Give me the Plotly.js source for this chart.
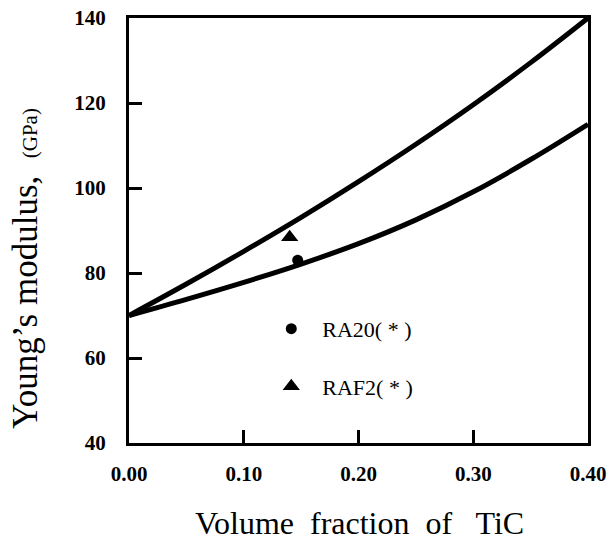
<!DOCTYPE html>
<html>
<head>
<meta charset="utf-8">
<script src="https://cdn.plot.ly/plotly-3.0.1.min.js"></script>
<style>html,body{margin:0;padding:0;background:#fff;}#chart{width:611px;height:541px;}</style>
</head>
<body>
<div id="chart"></div>
<script>
// Curve data
const vfCurve = [0, 0.05, 0.10, 0.15, 0.20, 0.25, 0.30, 0.35, 0.40];
const upperBound = [70, 77.4, 85.1, 93.1, 101.5, 110.3, 119.6, 129.5, 140];
const lowerBound = [70, 73.8, 77.8, 82.1, 86.9, 92.5, 99.1, 106.7, 115];

// Experimental points
const ra20X = [0.147];
const ra20Y = [83.0];
const raf2X = [0.140];
const raf2Y = [88.4];

const xTicks = [0, 0.1, 0.2, 0.3, 0.4];
const xTickLabels = ['0.00', '0.10', '0.20', '0.30', '0.40'];
const yTicks = [40, 60, 80, 100, 120, 140];
const yTickLabels = ['40', '60', '80', '100', '120', '140'];

const serif = '"Liberation Serif", "Times New Roman", serif';

const traces = [
  {x: vfCurve, y: upperBound, mode: 'lines', line: {color: '#000', width: 5, shape: 'spline', smoothing: 1}, showlegend: false, hoverinfo: 'skip'},
  {x: vfCurve, y: lowerBound, mode: 'lines', line: {color: '#000', width: 5, shape: 'spline', smoothing: 1}, showlegend: false, hoverinfo: 'skip'},
  {x: ra20X, y: ra20Y, mode: 'markers', name: '\u00a0\u00a0RA20( * )', legendgroup: 'a',
   marker: {symbol: 'circle', size: 11, color: '#000'}},
  {x: raf2X, y: raf2Y, mode: 'markers', name: '\u00a0\u00a0RAF2( * )', legendgroup: 'b',
   marker: {symbol: 'triangle-up', size: 15, color: '#000'}}
];

const layout = {
  width: 611, height: 541,
  margin: {l: 129, r: 23, t: 18, b: 98},
  paper_bgcolor: '#fff', plot_bgcolor: '#fff',
  font: {family: serif, color: '#000'},
  xaxis: {
    range: [0, 0.4], tickvals: xTicks, ticktext: xTickLabels,
    showline: true, linewidth: 3, linecolor: '#000', mirror: true,
    ticks: 'inside', ticklen: 13, tickwidth: 3, tickcolor: '#000',
    showgrid: false, zeroline: false,
    tickfont: {family: serif, size: 21, weight: 'bold'},
    ticklabelstandoff: 10
  },
  yaxis: {
    range: [40, 140], tickvals: yTicks, ticktext: yTickLabels,
    showline: true, linewidth: 3, linecolor: '#000', mirror: true,
    ticks: 'inside', ticklen: 13, tickwidth: 3, tickcolor: '#000',
    showgrid: false, zeroline: false,
    tickfont: {family: serif, size: 21, weight: 'bold'},
    ticklabelstandoff: 16
  },
  showlegend: true,
  legend: {
    x: 0.31, y: 0.318, xanchor: 'left', yanchor: 'top',
    bgcolor: 'rgba(0,0,0,0)', borderwidth: 0,
    font: {family: serif, size: 22, color: '#000'},
    tracegroupgap: 26, itemsizing: 'trace'
  },
  annotations: [
    {xref: 'paper', yref: 'paper', x: 0.503, y: -0.188, xanchor: 'center', yanchor: 'middle',
     showarrow: false, text: 'Volume\u00a0 fraction\u00a0 of\u00a0\u00a0 TiC',
     font: {family: serif, size: 32, color: '#000'}},
    {xref: 'paper', yref: 'paper', x: -0.224, y: 0.41, xanchor: 'center', yanchor: 'middle',
     showarrow: false, textangle: -90,
     text: 'Young\u2019s modulus,\u00a0 <span style="font-size:21px">(GPa)</span>',
     font: {family: serif, size: 35, color: '#000'}}
  ]
};

Plotly.newPlot('chart', traces, layout, {displayModeBar: false, staticPlot: true});
</script>
</body>
</html>
